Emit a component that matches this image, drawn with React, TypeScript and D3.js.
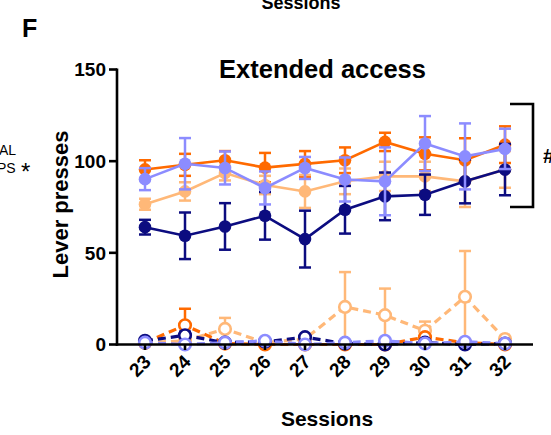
import React from "react";
import * as d3 from "d3";

const sessions = [23, 24, 25, 26, 27, 28, 29, 30, 31, 32];

// Solid series (filled markers)
const orangeMean = [95.5, 98, 100.5, 96.5, 98.5, 100.5, 110.5, 104, 100.5, 109];
const orangeErr = [5, 6, 5, 8, 7, 7, 5, 9, 12, 10];
const peachMean = [76.5, 83.5, 93.5, 87, 83.5, 89, 91.7, 91.7, 89, 95.5];
const peachErr = [3, 5, 4, 5, 9, 7, 8, 8, 14, 10];
const navyMean = [64, 59.3, 64.4, 70.2, 57.5, 73.5, 80.8, 81.7, 89, 95.4];
const navyErr = [4, 12.7, 12.7, 13, 15.5, 13, 13, 11, 12, 14];
const purpleMean = [90.2, 98.6, 96.3, 85.4, 96.3, 90, 89, 109.6, 102.6, 106.7];
const purpleErr = [6, 14, 9, 9, 6, 12, 18.5, 15, 18, 11];

// Dashed series (open markers)
const peachOpenMean = [1, 2, 8.5, 1, 3, 20.5, 16, 7.5, 26, 3];
const peachOpenErr = [0.5, 1, 6, 0.5, 2, 19, 14.5, 5, 25, 1];
const orangeOpenMean = [1, 10.5, 0.5, 0, 0, 0, 0, 4, 1, 0];
const orangeOpenErr = [0.5, 9, 0.3, 0, 0, 0, 0, 1, 0.5, 0];
const navyOpenMean = [2, 5, 1, 1.5, 4, 0.5, 0, 1, 0, 0.5];
const navyOpenErr = [0.5, 2, 0.5, 0.5, 1, 0.3, 0, 0.5, 0, 0.3];
const purpleOpenMean = [1, 0, 1, 2, 0, 1, 2, 0.5, 1.5, 0.5];
const purpleOpenErr = [0, 0, 0, 0, 0, 0, 0, 0, 0, 0];

const yTicks = [0, 50, 100, 150];

const ORANGE = "#FF6A00";
const PEACH = "#FFB878";
const NAVY = "#0C0C80";
const PURPLE = "#8C8CFF";

const FONT = "'Liberation Sans', Arial, Helvetica, sans-serif";

type Series = { mean: number[]; err: number[]; color: string; open: boolean };

const openSeries: Series[] = [
  { mean: peachOpenMean, err: peachOpenErr, color: PEACH, open: true },
  { mean: orangeOpenMean, err: orangeOpenErr, color: ORANGE, open: true },
  { mean: navyOpenMean, err: navyOpenErr, color: NAVY, open: true },
  { mean: purpleOpenMean, err: purpleOpenErr, color: PURPLE, open: true },
];
const solidSeries: Series[] = [
  { mean: orangeMean, err: orangeErr, color: ORANGE, open: false },
  { mean: peachMean, err: peachErr, color: PEACH, open: false },
  { mean: navyMean, err: navyErr, color: NAVY, open: false },
  { mean: purpleMean, err: purpleErr, color: PURPLE, open: false },
];

export default function App() {
  const W = 551;
  const H = 435;
  const x = d3.scaleLinear().domain([22.3, 32.7]).range([117, 533]);
  const y = d3.scaleLinear().domain([0, 150]).range([344.5, 69.5]);
  const line = d3
    .line<number>()
    .x((_, i) => x(sessions[i]))
    .y((d) => y(d));

  const renderSeries = (s: Series, k: string) => (
    <g key={k}>
      {s.mean.map((m, i) =>
        s.err[i] > 0.8 ? (
          <g key={i} stroke={s.color} strokeWidth={2.5}>
            <line x1={x(sessions[i])} x2={x(sessions[i])} y1={y(m + s.err[i])} y2={y(Math.max(0, m - s.err[i]))} />
            <line x1={x(sessions[i]) - 6} x2={x(sessions[i]) + 6} y1={y(m + s.err[i])} y2={y(m + s.err[i])} />
            {!s.open && (
              <line x1={x(sessions[i]) - 6} x2={x(sessions[i]) + 6} y1={y(m - s.err[i])} y2={y(m - s.err[i])} />
            )}
          </g>
        ) : null
      )}
      <path
        d={line(s.mean) || ""}
        fill="none"
        stroke={s.color}
        strokeWidth={s.open ? 3.2 : 2.6}
        strokeDasharray={s.open ? "8,5" : undefined}
      />
      {s.mean.map((m, i) => (
        <circle
          key={i}
          cx={x(sessions[i])}
          cy={y(m)}
          r={s.open ? 5.8 : 6.3}
          fill={s.open ? "#fff" : s.color}
          stroke={s.color}
          strokeWidth={s.open ? 2.6 : 0}
        />
      ))}
    </g>
  );

  return (
    <svg width={W} height={H} style={{ position: "absolute", left: 0, top: 0, background: "#fff" }} fontFamily={FONT}>
      <rect width={W} height={H} fill="#fff" />
      <text x={301} y={9} textAnchor="middle" fontWeight="bold" fontSize={18}>Sessions</text>
      <text x={22} y={37} fontWeight="bold" fontSize={25}>F</text>
      <text x={-1} y={155} fontSize={14}>AL</text>
      <text x={-3} y={173} fontSize={14}>PS</text>
      <text x={21} y={180} fontSize={24}>*</text>

      <text x={322.5} y={78} textAnchor="middle" fontWeight="bold" fontSize={25.5}>Extended access</text>

      <text
        transform={`translate(68,204.5) rotate(-90)`}
        textAnchor="middle"
        fontWeight="bold"
        fontSize={22}
      >
        Lever presses
      </text>

      {openSeries.map((s, i) => renderSeries(s, "o" + i))}
      {solidSeries.map((s, i) => renderSeries(s, "s" + i))}

      {/* axes */}
      <g stroke="#000" strokeWidth={2.6} fill="none">
        <line x1={117} x2={117} y1={68.5} y2={345.7} />
        <line x1={115.8} x2={533} y1={344.5} y2={344.5} />
        {yTicks.map((t) => (
          <line key={t} x1={109} x2={117} y1={y(t)} y2={y(t)} />
        ))}
        {sessions.map((s) => (
          <line key={s} x1={x(s)} x2={x(s)} y1={344.5} y2={350} />
        ))}
        <path d="M510,104 H533 V207 H510" />
      </g>
      {yTicks.map((t) => (
        <text key={t} x={106} y={y(t) + 6.8} textAnchor="end" fontWeight="bold" fontSize={19}>
          {t}
        </text>
      ))}
      {sessions.map((s) => (
        <text
          key={s}
          transform={`translate(${x(s) + 7},${363}) rotate(-45)`}
          textAnchor="end"
          fontWeight="bold"
          fontSize={19}
        >
          {s}
        </text>
      ))}
      <text x={327} y={426} textAnchor="middle" fontWeight="bold" fontSize={21}>Sessions</text>
      <text x={543} y={163} fontWeight="bold" fontSize={21}>#</text>
    </svg>
  );
}
